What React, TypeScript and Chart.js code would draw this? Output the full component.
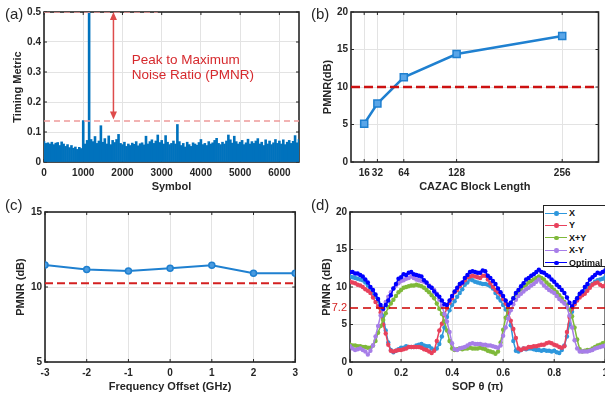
import React, { useEffect, useRef } from 'react';
import { Chart, registerables } from 'chart.js';
Chart.register(...registerables);

const FONT = "'Liberation Sans', Arial, sans-serif";
const TXT = '#262626';
const GRID = '#e3e3e3';

// ---------- (a) timing metric ----------
const symbolStep = 50;
const symbolTicks = [0, 1000, 2000, 3000, 4000, 5000, 6000];
const timingMetric = [
  0.068, 0.062, 0.064, 0.060, 0.066, 0.058, 0.063, 0.065, 0.055, 0.067,
  0.060, 0.052, 0.058, 0.048, 0.055, 0.046, 0.050, 0.042, 0.049, 0.045,
  0.138, 0.060, 0.072, 0.520, 0.075, 0.068, 0.085, 0.062, 0.070, 0.121,
  0.066, 0.078, 0.060, 0.087, 0.058, 0.072, 0.065, 0.075, 0.092, 0.062,
  0.058, 0.066, 0.052, 0.060, 0.055, 0.063, 0.059, 0.068, 0.054, 0.061,
  0.064, 0.057, 0.086, 0.060, 0.068, 0.074, 0.062, 0.070, 0.090, 0.065,
  0.072, 0.060, 0.088, 0.066, 0.058, 0.062, 0.070, 0.060, 0.125, 0.068,
  0.055, 0.062, 0.050, 0.066, 0.058, 0.052, 0.064, 0.060, 0.056, 0.065,
  0.075, 0.058, 0.062, 0.055, 0.068, 0.060, 0.064, 0.072, 0.079, 0.062,
  0.058, 0.066, 0.060, 0.070, 0.090, 0.074, 0.063, 0.086, 0.068, 0.060,
  0.066, 0.072, 0.058, 0.064, 0.076, 0.060, 0.068, 0.062, 0.070, 0.078,
  0.060, 0.066, 0.055, 0.074, 0.060, 0.070, 0.058, 0.064, 0.075, 0.062,
  0.070, 0.060, 0.074, 0.058, 0.066, 0.072, 0.062, 0.069, 0.088, 0.064, 0.075,
];
const peakLevel = 0.5;
const peakLineEnd = 2900;
const noiseLevel = 0.137;
const arrowSymbol = 1770;
const arrowBottom = 0.142;
const annotationLines = ['Peak to Maximum', 'Noise Ratio (PMNR)'];
const annotationSymbol = 2235;
const annotationLevels = [0.327, 0.277];

// ---------- (b) block length ----------
const blockLengths = [16, 32, 64, 128, 256];
const pmnrBlock = [5.1, 7.8, 11.3, 14.4, 16.8];
const thresholdB = 10;

// ---------- (c) frequency offset ----------
const freqOffsets = [-3, -2, -1, 0, 1, 2, 3];
const pmnrFreq = [11.47, 11.16, 11.07, 11.25, 11.45, 10.91, 10.91];
const thresholdC = 10.25;

// ---------- (d) SOP ----------
const sopStep = 0.01;
const sopX = [
  11.4, 11.3, 11.2, 11.1, 11.0, 10.9, 10.6, 10.2, 9.8, 9.2,
  8.7, 8.1, 7.2, 6.1, 4.2, 2.6, 1.6, 1.3, 1.5, 1.7,
  1.9, 1.9, 2.1, 2.0, 2.0, 2.0, 2.2, 2.3, 2.4, 2.2,
  2.1, 2.1, 1.8, 1.6, 1.8, 2.4, 3.4, 4.6, 6.0, 6.9,
  7.6, 8.1, 8.7, 9.2, 9.7, 10.3, 10.6, 11.0, 10.9, 10.7,
  10.6, 10.5, 10.4, 10.4, 10.3, 10.1, 9.8, 9.2, 8.6, 8.2,
  7.6, 7.0, 6.4, 4.9, 2.8, 1.5, 1.4, 1.6, 1.8, 1.7,
  1.8, 1.8, 1.7, 1.6, 1.6, 1.5, 1.6, 1.5, 1.5, 1.4,
  1.5, 1.3, 1.2, 1.6, 2.2, 3.4, 5.0, 6.7, 7.8, 8.5,
  8.9, 9.3, 9.6, 9.9, 10.2, 10.4, 10.7, 10.9, 11.0, 11.1,
  11.3,
];
const sopY = [
  10.7, 10.6, 10.5, 10.3, 10.2, 10.0, 9.7, 9.5, 9.2, 8.6,
  8.0, 7.4, 6.6, 5.0, 3.8, 2.3, 1.5, 1.4, 1.5, 1.6,
  1.6, 1.7, 1.8, 2.0, 2.0, 2.0, 2.0, 2.0, 1.9, 1.7,
  1.6, 1.4, 1.2, 1.5, 2.8, 4.2, 5.1, 6.3, 7.2, 7.9,
  8.5, 9.3, 9.6, 10.1, 10.5, 10.9, 11.3, 11.4, 11.5, 11.4,
  11.3, 11.2, 11.5, 11.5, 11.0, 10.5, 10.0, 9.6, 9.3, 9.0,
  8.4, 7.8, 6.6, 5.5, 4.4, 3.2, 1.8, 1.6, 1.8, 1.8,
  2.0, 2.0, 2.1, 2.1, 2.2, 2.3, 2.3, 2.5, 2.6, 2.5,
  2.3, 2.2, 2.0, 1.9, 2.1, 4.0, 6.0, 7.1, 7.7, 8.2,
  8.6, 8.9, 9.1, 9.5, 9.9, 10.3, 10.5, 10.6, 10.3, 10.1,
  10.2,
];
const sopXplusY = [
  2.3, 2.2, 2.2, 2.1, 2.1, 2.0, 2.0, 1.9, 1.9, 2.2,
  2.8, 3.9, 4.8, 5.6, 6.5, 7.3, 7.8, 8.3, 8.8, 9.3,
  9.6, 9.9, 10.0, 10.1, 10.2, 10.2, 10.3, 10.2, 10.1, 9.9,
  9.6, 9.3, 8.9, 8.5, 7.8, 7.1, 6.4, 5.4, 4.2, 2.8,
  1.8, 1.6, 1.7, 1.8, 1.7, 1.8, 1.8, 1.9, 1.8, 1.8,
  1.8, 1.9, 1.8, 1.7, 1.5, 1.4, 1.3, 1.1, 1.4, 2.6,
  4.3, 5.9, 7.1, 7.9, 8.5, 9.0, 9.4, 9.7, 10.1, 10.3,
  10.6, 10.8, 11.0, 11.2, 11.4, 11.2, 11.0, 10.6, 10.3, 10.0,
  9.6, 9.3, 8.9, 8.5, 8.0, 7.6, 7.0, 6.1, 4.6, 3.0,
  1.7, 1.4, 1.5, 1.6, 1.6, 1.8, 2.0, 2.2, 2.3, 2.5,
  2.6,
];
const sopXminusY = [
  2.1, 1.8, 1.6, 1.7, 1.8, 1.6, 1.4, 1.0, 1.5, 2.2,
  3.4, 4.8, 6.2, 7.0, 8.0, 8.7, 9.3, 9.8, 10.2, 10.5,
  10.8, 10.9, 11.1, 11.2, 11.4, 11.2, 11.0, 10.9, 10.8, 10.7,
  10.5, 10.2, 9.9, 9.6, 9.1, 8.3, 7.5, 6.4, 5.4, 4.0,
  2.5, 1.7, 1.6, 1.8, 1.9, 2.0, 2.2, 2.4, 2.5, 2.4,
  2.4, 2.4, 2.3, 2.3, 2.2, 2.2, 2.1, 2.0, 1.9, 2.2,
  3.5, 4.6, 5.8, 6.9, 7.7, 8.3, 8.8, 9.1, 9.4, 9.7,
  9.9, 10.2, 10.4, 10.7, 11.0, 10.6, 10.2, 9.9, 9.6, 9.4,
  9.2, 8.8, 8.4, 8.1, 7.8, 7.3, 6.2, 4.6, 2.9, 1.8,
  1.4, 1.4, 1.4, 1.4, 1.5, 1.6, 1.8, 1.9, 2.0, 2.1,
  2.2,
];
const sopOptimal = [
  12.0, 12.0, 11.8, 11.8, 11.6, 11.4, 11.0, 10.6, 10.0, 9.6,
  9.0, 8.4, 7.6, 7.1, 7.6, 8.2, 8.9, 9.8, 10.4, 11.1,
  11.3, 11.7, 11.6, 11.9, 12.0, 11.7, 11.6, 11.5, 11.4, 10.9,
  10.6, 10.1, 9.9, 9.4, 9.0, 8.7, 8.2, 7.7, 7.6, 8.2,
  8.8, 9.4, 9.9, 10.4, 10.6, 11.2, 11.6, 12.0, 12.1, 12.0,
  11.9, 11.9, 12.2, 12.1, 11.5, 11.2, 10.8, 10.4, 9.8, 9.3,
  8.8, 8.2, 7.6, 7.9, 8.5, 9.2, 9.6, 10.1, 10.5, 11.0,
  11.2, 11.5, 11.7, 12.0, 12.3, 12.0, 11.9, 11.6, 11.4, 11.0,
  10.7, 10.3, 10.0, 9.6, 9.2, 8.6, 7.9, 7.4, 8.0, 8.5,
  9.1, 9.4, 10.0, 10.4, 11.0, 11.3, 11.6, 11.9, 11.8, 12.0,
  12.2,
];
const thresholdD = 7.2;
const sopTicksY = [0, 5, 7.2, 10, 15, 20];

const sopSeries = [
  { name: 'X', values: sopX, color: '#2e97dc' },
  { name: 'Y', values: sopY, color: '#e8415c' },
  { name: 'X+Y', values: sopXplusY, color: '#7fb93a' },
  { name: 'X-Y', values: sopXminusY, color: '#a77ee8' },
  { name: 'Optimal', values: sopOptimal, color: '#0000ff' },
];

// ---------- helpers ----------
const tickFont = { family: FONT, size: 10, weight: 'bold' as const };
const titleFont = { family: FONT, size: 11, weight: 'bold' as const };
const plainNumber = (v: any) => String(Number(Number(v).toFixed(2)));

function makeFrame(skipY?: number) {
  return {
    id: 'frame',
    beforeDatasetsDraw(chart: any) {
      const { ctx, chartArea: a, scales } = chart;
      ctx.save();
      ctx.strokeStyle = TXT;
      ctx.lineWidth = 1;
      const xs = scales.x, ys = scales.y;
      ctx.beginPath();
      xs.ticks.forEach((t: any) => {
        const px = xs.getPixelForValue(t.value);
        ctx.moveTo(px, a.bottom); ctx.lineTo(px, a.bottom - 3);
        ctx.moveTo(px, a.top); ctx.lineTo(px, a.top + 3);
      });
      ys.ticks.forEach((t: any) => {
        if (skipY !== undefined && t.value === skipY) return;
        const py = ys.getPixelForValue(t.value);
        ctx.moveTo(a.left, py); ctx.lineTo(a.left + 3, py);
        ctx.moveTo(a.right, py); ctx.lineTo(a.right - 3, py);
      });
      ctx.stroke();
      ctx.lineWidth = 1.6;
      ctx.strokeRect(a.left, a.top, a.right - a.left, a.bottom - a.top);
      ctx.restore();
    },
  };
}

function xAxis(o: any) {
  return {
    type: 'linear',
    min: o.min, max: o.max, offset: false,
    grid: { color: GRID, drawTicks: false, offset: false },
    border: { display: false },
    ticks: { font: tickFont, color: TXT, padding: o.tickPad ?? 5, maxRotation: 0, autoSkip: false, includeBounds: false, stepSize: o.step, callback: plainNumber },
    title: { display: true, text: o.title, font: titleFont, color: TXT, padding: { top: 0, bottom: o.titlePad } },
    afterFit: (s: any) => { s.height = o.height; },
    afterBuildTicks: o.ticks ? (s: any) => { s.ticks = o.ticks.map((v: number) => ({ value: v })); } : undefined,
  };
}

function yAxis(o: any) {
  return {
    type: 'linear',
    min: o.min, max: o.max,
    grid: { color: o.gridColor ?? GRID, drawTicks: false },
    border: { display: false },
    ticks: { font: o.tickFontFn ?? tickFont, color: o.tickColorFn ?? TXT, padding: 3, stepSize: o.step, includeBounds: false, callback: plainNumber },
    title: { display: true, text: o.title, font: titleFont, color: TXT, padding: { top: o.titlePad, bottom: 0 } },
    afterFit: (s: any) => { s.width = o.width; },
    afterBuildTicks: o.ticks ? (s: any) => { s.ticks = o.ticks.map((v: number) => ({ value: v })); } : undefined,
  };
}

const baseOptions = (padding: any) => ({
  responsive: false,
  maintainAspectRatio: false,
  animation: false,
  layout: { padding },
  plugins: { legend: { display: false }, tooltip: { enabled: false } },
});

// ---------- configs ----------
function configA(): any {
  const annotation = {
    id: 'annotA',
    afterDatasetsDraw(chart: any) {
      const { ctx, scales } = chart;
      const xs = scales.x, ys = scales.y;
      const x = xs.getPixelForValue(arrowSymbol);
      const y1 = ys.getPixelForValue(peakLevel);
      const y2 = ys.getPixelForValue(arrowBottom);
      ctx.save();
      ctx.strokeStyle = '#de4b4b';
      ctx.fillStyle = '#de4b4b';
      ctx.lineWidth = 1.5;
      ctx.beginPath(); ctx.moveTo(x, y1 + 4); ctx.lineTo(x, y2 - 4); ctx.stroke();
      ctx.beginPath(); ctx.moveTo(x, y1); ctx.lineTo(x - 3.5, y1 + 8); ctx.lineTo(x + 3.5, y1 + 8); ctx.closePath(); ctx.fill();
      ctx.beginPath(); ctx.moveTo(x, y2); ctx.lineTo(x - 3.5, y2 - 8); ctx.lineTo(x + 3.5, y2 - 8); ctx.closePath(); ctx.fill();
      ctx.fillStyle = '#d6292d';
      ctx.font = `13.5px ${FONT}`;
      ctx.textBaseline = 'alphabetic';
      ctx.textAlign = 'left';
      const tx = xs.getPixelForValue(annotationSymbol);
      annotationLines.forEach((line, i) => ctx.fillText(line, tx, ys.getPixelForValue(annotationLevels[i])));
      ctx.restore();
    },
  };
  return {
    type: 'bar',
    data: {
      datasets: [
        { type: 'line', data: [{ x: 0, y: peakLevel }, { x: peakLineEnd, y: peakLevel }], borderColor: '#ee9a9a', borderWidth: 1.5, borderDash: [6, 4], pointRadius: 0, order: 0 },
        { type: 'line', data: [{ x: 0, y: noiseLevel }, { x: 6500, y: noiseLevel }], borderColor: '#ee9a9a', borderWidth: 1.5, borderDash: [6, 4], pointRadius: 0, order: 0 },
        { type: 'bar', data: timingMetric.map((v, i) => ({ x: i * symbolStep, y: v })), backgroundColor: '#0072BD', barPercentage: 1, categoryPercentage: 1, order: 1 },
      ],
    },
    options: {
      ...baseOptions({ left: 0, top: 12, right: 4, bottom: 0 }),
      scales: {
        x: xAxis({ min: 0, max: 6500, ticks: symbolTicks, title: 'Symbol', height: 35, titlePad: 3 }),
        y: yAxis({ min: 0, max: 0.5, step: 0.1, title: 'Timing Metric', width: 44, titlePad: 11 }),
      },
    },
    plugins: [makeFrame(), annotation],
  };
}

function configB(): any {
  return {
    type: 'line',
    data: {
      datasets: [
        { data: [{ x: 0, y: thresholdB }, { x: 300, y: thresholdB }], borderColor: '#cc1111', borderWidth: 2.5, borderDash: [9, 4], pointRadius: 0, order: 0 },
        { data: blockLengths.map((x, i) => ({ x, y: pmnrBlock[i] })), borderColor: '#1f80d0', borderWidth: 2.5, pointStyle: 'rect', pointRadius: 5, pointBackgroundColor: '#5aa6e8', pointBorderColor: '#1f80d0', pointBorderWidth: 1.5, order: 1 },
      ],
    },
    options: {
      ...baseOptions({ left: 0, top: 12, right: 2, bottom: 0 }),
      scales: {
        x: xAxis({ min: 0, max: 300, ticks: blockLengths, title: 'CAZAC Block Length', height: 35, titlePad: 3 }),
        y: yAxis({ min: 0, max: 20, step: 5, title: 'PMNR(dB)', width: 48, titlePad: 18 }),
      },
    },
    plugins: [makeFrame()],
  };
}

function configC(): any {
  return {
    type: 'line',
    data: {
      datasets: [
        { data: [{ x: -3, y: thresholdC }, { x: 3, y: thresholdC }], borderColor: '#d42020', borderWidth: 2, borderDash: [8, 4], pointRadius: 0, order: 0 },
        { data: freqOffsets.map((x, i) => ({ x, y: pmnrFreq[i] })), borderColor: '#1f80d0', borderWidth: 2, pointRadius: 3, pointBackgroundColor: '#4a9be0', pointBorderColor: '#1f80d0', pointBorderWidth: 1.5, order: 1 },
      ],
    },
    options: {
      ...baseOptions({ left: 0, top: 15, right: 4, bottom: 0 }),
      scales: {
        x: xAxis({ min: -3, max: 3, step: 1, title: 'Frequency Offset (GHz)', height: 33, titlePad: 1 }),
        y: yAxis({ min: 5, max: 15, step: 5, title: 'PMNR (dB)', width: 45, titlePad: 14 }),
      },
    },
    plugins: [makeFrame()],
  };
}

function configD(): any {
  const series = sopSeries.map((s, k) => ({
    label: s.name,
    data: s.values.map((v, i) => ({ x: i * sopStep, y: v })),
    borderColor: s.color,
    backgroundColor: s.color,
    borderWidth: 1.5,
    pointRadius: 2.2,
    pointBorderWidth: 0,
    pointBackgroundColor: s.color,
    order: sopSeries.length - k,
  }));
  return {
    type: 'line',
    data: {
      datasets: [
        ...series,
        { data: [{ x: 0, y: thresholdD }, { x: 1, y: thresholdD }], borderColor: '#cc0000', borderWidth: 1.5, borderDash: [8, 5], pointRadius: 0, order: 0 },
      ],
    },
    options: {
      ...baseOptions({ left: 0, top: 15, right: 5.5, bottom: 0 }),
      scales: {
        x: xAxis({ min: 0, max: 1, step: 0.2, title: 'SOP θ (π)', height: 33, titlePad: 1 }),
        y: yAxis({
          min: 0, max: 20, ticks: sopTicksY, title: 'PMNR (dB)', width: 47, titlePad: 17,
          gridColor: (c: any) => (c.tick && c.tick.value === thresholdD ? 'rgba(0,0,0,0)' : GRID),
          tickColorFn: (c: any) => (c.tick && c.tick.value === thresholdD ? '#d42020' : TXT),
          tickFontFn: (c: any) => (c.tick && c.tick.value === thresholdD ? { family: FONT, size: 11, weight: 'normal' } : tickFont),
        }),
      },
    },
    plugins: [makeFrame(thresholdD)],
  };
}

function ChartPanel({ left, top, width, height, build }: any) {
  const ref = useRef<HTMLCanvasElement>(null);
  useEffect(() => {
    const chart = new Chart(ref.current as HTMLCanvasElement, build());
    return () => chart.destroy();
  }, []);
  return (
    <div style={{ position: 'absolute', left, top, width, height }}>
      <canvas ref={ref} width={width} height={height} />
    </div>
  );
}

const panelLabel = (text: string, left: number, top: number) => (
  <div key={text} style={{ position: 'absolute', left, top, fontFamily: FONT, fontSize: 15, lineHeight: '15px', color: TXT }}>{text}</div>
);

function SopLegend() {
  return (
    <div style={{ position: 'absolute', left: 543, top: 205, width: 75, height: 62, border: '1px solid #222', background: '#fff', boxSizing: 'border-box' }}>
      {sopSeries.map((s, i) => (
        <div key={s.name} style={{ position: 'absolute', left: 0, top: 1 + i * 12.4, height: 12, width: 75 }}>
          <div style={{ position: 'absolute', left: 1, top: 5.5, width: 22, height: 0, borderTop: `1.5px solid ${s.color}` }} />
          <div style={{ position: 'absolute', left: 10, top: 4, width: 4.5, height: 4.5, borderRadius: '50%', background: s.color }} />
          <div style={{ position: 'absolute', left: 25, top: 0, fontFamily: FONT, fontSize: 9, fontWeight: 'bold', lineHeight: '12px', color: '#111', whiteSpace: 'nowrap' }}>{s.name}</div>
        </div>
      ))}
    </div>
  );
}

export default function App() {
  useEffect(() => { document.body.style.margin = '0'; }, []);
  return (
    <div style={{ position: 'fixed', left: 0, top: 0, width: 605, height: 395, overflow: 'hidden', background: '#fff' }}>
      <ChartPanel left={0} top={0} width={303} height={197} build={configA} />
      <ChartPanel left={303} top={0} width={302} height={197} build={configB} />
      <ChartPanel left={0} top={197} width={303} height={198} build={configC} />
      <ChartPanel left={303} top={197} width={310} height={198} build={configD} />
      {panelLabel('(a)', 5, 6)}
      {panelLabel('(b)', 311, 6)}
      {panelLabel('(c)', 5, 197)}
      {panelLabel('(d)', 311, 197)}
      <SopLegend />
    </div>
  );
}
